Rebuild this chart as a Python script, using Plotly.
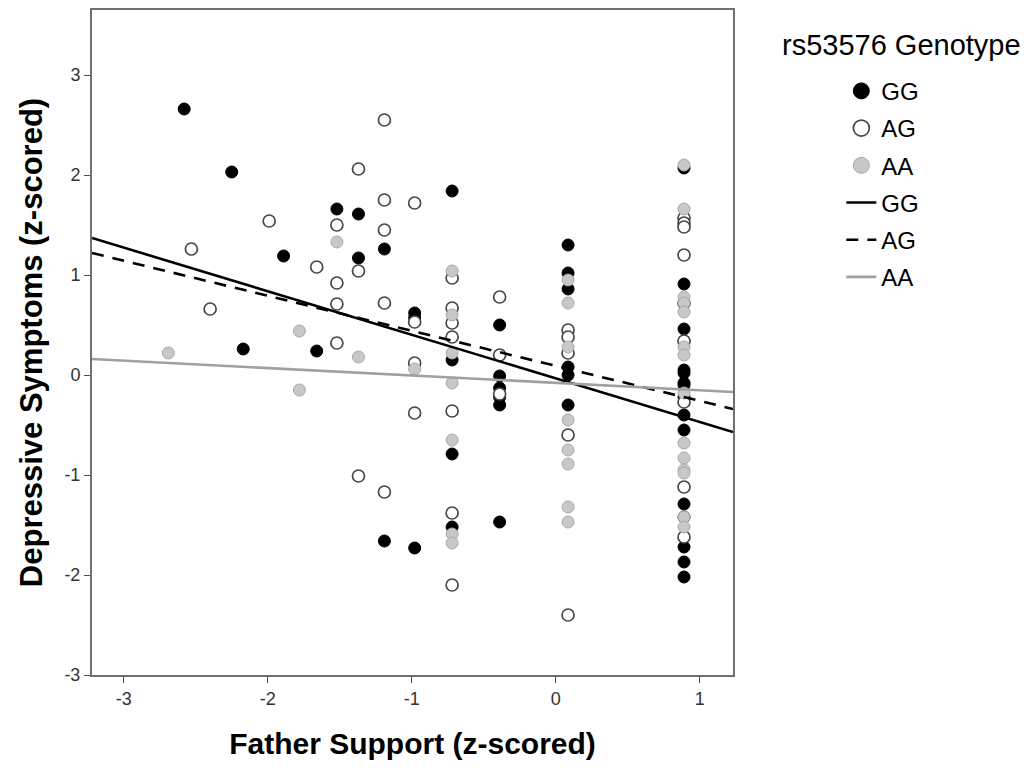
import plotly.graph_objects as go

# ---- data ----
gg_x = [-2.58, -2.25, -1.89, -2.17, -1.66, -1.52, -1.37, -1.37, -1.19, -1.19,
        -0.98, -0.98, -0.98, -0.72, -0.72, -0.72, -0.72,
        -0.39, -0.39, -0.39, -0.39, -0.39, -0.39,
        0.085, 0.085, 0.085, 0.085, 0.085, 0.085,
        0.89, 0.89, 0.89, 0.89, 0.89, 0.89, 0.89, 0.89, 0.89, 0.89,
        0.89, 0.89, 0.89, 0.89, 0.89]
gg_y = [2.66, 2.03, 1.19, 0.26, 0.24, 1.66, 1.61, 1.17, 1.26, -1.66,
        0.62, 0.57, -1.73, 1.84, 0.15, -0.79, -1.52,
        0.50, -0.01, -0.13, -0.22, -0.30, -1.47,
        1.30, 1.02, 0.86, 0.08, 0.00, -0.30,
        2.07, 0.91, 0.46, 0.05, 0.02, -0.08, -0.10, -0.22, -0.40, -0.55,
        -1.29, -1.42, -1.72, -1.87, -2.02]

ag_x = [-2.53, -2.40, -1.99, -1.66, -1.52, -1.52, -1.52, -1.52,
        -1.37, -1.37, -1.37, -1.19, -1.19, -1.19, -1.19, -1.19,
        -0.98, -0.98, -0.98, -0.98,
        -0.72, -0.72, -0.72, -0.72, -0.72, -0.72, -0.72,
        -0.39, -0.39, -0.39,
        0.085, 0.085, 0.085, 0.085, 0.085,
        0.89, 0.89, 0.89, 0.89, 0.89, 0.89, 0.89, 0.89, 0.89]
ag_y = [1.26, 0.66, 1.54, 1.08, 1.50, 0.92, 0.71, 0.32,
        2.06, 1.04, -1.01, 2.55, 1.75, 1.45, 0.72, -1.17,
        1.72, 0.53, 0.12, -0.38,
        0.97, 0.67, 0.52, 0.38, -0.36, -1.38, -2.10,
        0.78, 0.20, -0.19,
        0.45, 0.38, 0.22, -0.60, -2.40,
        1.57, 1.52, 1.48, 1.20, 0.72, 0.34, -0.27, -1.12, -1.62]

aa_x = [-2.69, -1.78, -1.78, -1.52, -1.37, -0.98,
        -0.72, -0.72, -0.72, -0.72, -0.72, -0.72, -0.72,
        0.085, 0.085, 0.085, 0.085, 0.085, 0.085, 0.085, 0.085,
        0.89, 0.89, 0.89, 0.89, 0.89, 0.89, 0.89, 0.89, 0.89, 0.89,
        0.89, 0.89, 0.89, 0.89]
aa_y = [0.22, 0.44, -0.15, 1.33, 0.18, 0.06,
        1.04, 0.60, 0.22, -0.08, -0.65, -1.59, -1.68,
        0.95, 0.72, 0.28, -0.45, -0.75, -0.89, -1.32, -1.47,
        2.10, 1.66, 0.78, 0.72, 0.63, 0.28, 0.20, -0.18, -0.68, -0.83,
        -0.95, -0.98, -1.42, -1.52]

# regression fit lines (end points)
fit_x = [-3.22, 1.23]
fit_gg = [1.37, -0.57]
fit_ag = [1.22, -0.34]
fit_aa = [0.16, -0.17]

x_ticks = [-3, -2, -1, 0, 1]
x_ticktext = ["-3", "-2", "-1", "0", "1"]
y_ticks = [-3, -2, -1, 0, 1, 2, 3]
y_ticktext = ["-3", "-2", "-1", "0", "1", "2", "3"]

FONT = "Liberation Sans, Arial, sans-serif"

fig = go.Figure()

# data points (legend handled by separate legend entries below)
fig.add_trace(go.Scatter(x=gg_x, y=gg_y, mode="markers", showlegend=False,
                         marker=dict(size=12, color="black",
                                     line=dict(color="black", width=1))))
fig.add_trace(go.Scatter(x=ag_x, y=ag_y, mode="markers", showlegend=False,
                         marker=dict(size=12, color="white",
                                     line=dict(color="#474747", width=1.7))))
fig.add_trace(go.Scatter(x=aa_x, y=aa_y, mode="markers", showlegend=False,
                         marker=dict(size=12, color="#c8c8c8",
                                     line=dict(color="#a8a8a8", width=1))))
# legend-only marker entries (bigger symbols as in reference)
fig.add_trace(go.Scatter(x=[None], y=[None], mode="markers", name="GG",
                         legendgroup="g1",
                         marker=dict(size=20, color="black",
                                     line=dict(color="black", width=1))))
fig.add_trace(go.Scatter(x=[None], y=[None], mode="markers", name="AG",
                         legendgroup="g2",
                         marker=dict(size=20, color="white",
                                     line=dict(color="#474747", width=1.7))))
fig.add_trace(go.Scatter(x=[None], y=[None], mode="markers", name="AA",
                         legendgroup="g3",
                         marker=dict(size=20, color="#c8c8c8",
                                     line=dict(color="#a8a8a8", width=1))))
# fit lines
fig.add_trace(go.Scatter(x=fit_x, y=fit_gg, mode="lines", name="GG",
                         legendgroup="g4",
                         line=dict(color="black", width=2.6)))
fig.add_trace(go.Scatter(x=fit_x, y=fit_ag, mode="lines", name="AG",
                         legendgroup="g5",
                         line=dict(color="black", width=2.6, dash="12px,9px")))
fig.add_trace(go.Scatter(x=fit_x, y=fit_aa, mode="lines", name="AA",
                         legendgroup="g6",
                         line=dict(color="#a0a0a0", width=2.6)))

axis_common = dict(showgrid=False, zeroline=False, showline=True, mirror=True,
                   linecolor="#707070", linewidth=2, ticks="outside",
                   ticklen=6, tickwidth=1, tickcolor="#505050",
                   automargin=False,
                   tickfont=dict(family=FONT, size=18, color="#333333"))

fig.update_layout(
    width=1020, height=760,
    paper_bgcolor="white", plot_bgcolor="white",
    margin=dict(l=84, r=295, t=2, b=93),
    xaxis=dict(range=[-3.22, 1.23], tickvals=x_ticks, ticktext=x_ticktext,
               title=dict(text="<b>Father Support (z-scored)</b>",
                          font=dict(family=FONT, size=30, color="black"),
                          standoff=25),
               **axis_common),
    yaxis=dict(range=[-3.0, 3.65], tickvals=y_ticks, ticktext=y_ticktext,
               title=dict(text="<b>Depressive Symptoms (z-scored)</b>",
                          font=dict(family=FONT, size=31, color="black"),
                          standoff=13),
               **axis_common),
    legend=dict(xref="container", yref="container", x=0.817, y=0.920,
                xanchor="left", yanchor="top",
                font=dict(family=FONT, size=24, color="black"),
                tracegroupgap=3, bgcolor="rgba(0,0,0,0)"),
    showlegend=True,
    annotations=[dict(text="rs53576 Genotype", xref="paper", yref="paper",
                      x=1.452, y=0.947, xanchor="right", yanchor="middle",
                      showarrow=False,
                      font=dict(family=FONT, size=29, color="black"))],
)

fig.write_html("out.html")
